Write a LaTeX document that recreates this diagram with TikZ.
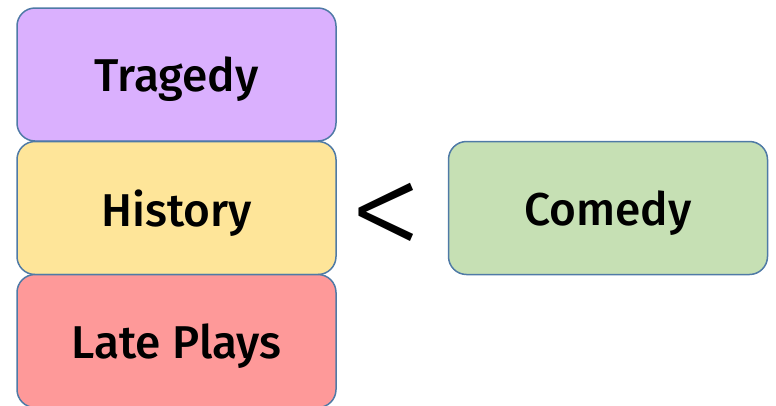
\documentclass[tikz,border=0pt]{standalone}
\usepackage{fontspec}
\setmainfont{Fira Sans}[UprightFont={* Medium}]
\begin{document}
\begin{tikzpicture}[x=1pt,y=-1pt,
  box/.style={draw=boxline, line width=1.5pt, rounded corners=18pt, minimum width=319pt, minimum height=133pt, inner sep=0pt, text depth=0pt, font=\fontsize{46}{52}\selectfont},
]
\definecolor{boxline}{HTML}{4F7AA6}
\definecolor{cTrag}{HTML}{DAB0FE}
\definecolor{cHist}{HTML}{FEE599}
\definecolor{cLate}{HTML}{FE9999}
\definecolor{cCom}{HTML}{C6E0B4}
\useasboundingbox (0,0) rectangle (776,405);
\node[box, fill=cTrag] (trag) at (176.5,74.5) {Tragedy};
\node[box, fill=cHist] (hist) at (176.5,208) {History};
\node[box, fill=cLate] (late) at (176.5,341) {Late Plays};
\node[box, fill=cCom] (com) at (608,208) {Comedy};
\node[font=\fontsize{148}{148}\selectfont\fontspec{Fira Sans Light}] (lt) at (386,222) {<};
\end{tikzpicture}
\end{document}
